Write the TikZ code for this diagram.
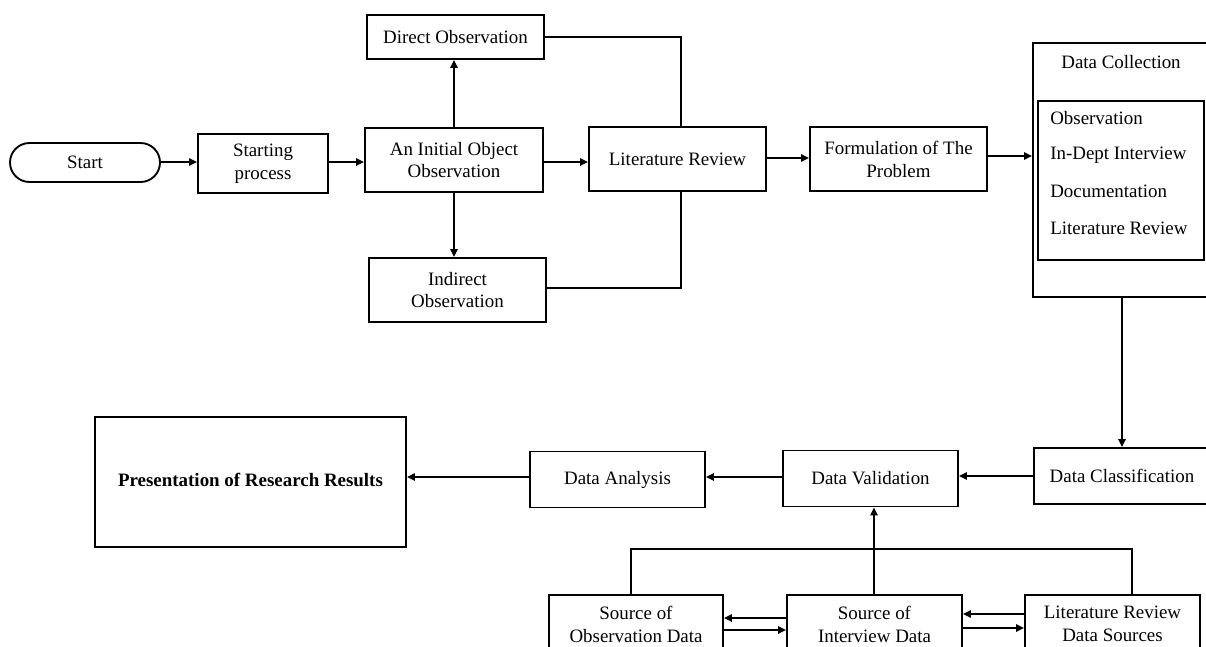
\documentclass[tikz,border=0pt]{standalone}
\usepackage{fontspec}
\setmainfont{Liberation Serif}
\usetikzlibrary{arrows.meta}
\tikzset{
  box/.style 2 args={draw, line width=1.4pt, minimum width=#1*0.75pt, minimum height=#2*0.75pt, inner sep=0pt, align=center, font=\fontsize{14.2}{17.2}\selectfont},
  plain/.style={inner sep=0pt, font=\fontsize{14.2}{17.2}\selectfont},
  conn/.style={line width=1.4pt},
  arr/.style={conn, -{Triangle[length=6pt,width=5.5pt]}},
  lowtext/.style={label={[align=center, inner sep=0pt, font=\fontsize{14.2}{17.2}\selectfont, yshift=2.5pt]center:#1}},
}
\begin{document}
\begin{tikzpicture}[x=0.75pt,y=-0.75pt]
\useasboundingbox (0,0) rectangle (1206,646);
\clip (0,0) rectangle (1206,646);
% top row
\node[box={150}{39}, rounded corners=14.6pt] (start) at (85,162.5) {Start};
\node[box={130}{59}] (sp) at (263,163.5) {Starting\\process};
\node[box={178}{64}] (init) at (454,160) {An Initial Object\\Observation};
\node[box={177}{44}] (direct) at (455.5,37) {Direct Observation};
\node[box={177}{64}] (indirect) at (457.5,290) {Indirect\\Observation};
\node[box={177}{64}] (lr) at (677.5,159) {Literature Review};
\node[box={177}{64}] (form) at (898.5,159) {Formulation of The\\Problem};
\node[box={180}{254}] (dc) at (1123,170) {};
\node[plain] (dctitle) at (1121,62) {Data Collection};
\node[draw, line width=0.8pt, minimum width=166*0.75pt, minimum height=159*0.75pt, inner sep=0pt] (inner) at (1121,180.5) {};
\node[plain, anchor=west] (i1) at (1050,118) {Observation};
\node[plain, anchor=west] (i2) at (1050,155) {In-Dept Interview};
\node[plain, anchor=west] (i3) at (1050,191) {Documentation};
\node[plain, anchor=west] (i4) at (1050,228) {Literature Review};
% middle row
\node[box={176}{56}] (dclass) at (1122,476) {Data Classification};
\node[box={175}{56}] (dval) at (870.5,478.5) {Data Validation};
\node[box={175}{56}] (dana) at (617.5,479.5) {Data Analysis};
\node[box={311}{130}] (pres) at (250.5,482) {\raisebox{3.75pt}{\bfseries Presentation of Research Results}};
% bottom row
\node[box={174}{65}, lowtext={Source of\\Observation Data}] (sobs) at (636,627.5) {};
\node[box={175}{65}, lowtext={Source of\\Interview Data}] (sint) at (874.5,627.5) {};
\node[box={175}{65}, lowtext={Literature Review\\Data Sources}] (slit) at (1112.5,627.5) {};
% connectors
\draw[arr] (start.east |- 0,162) -- (sp.west |- 0,162);
\draw[arr] (sp.east |- 0,162) -- (init.west |- 0,162);
\draw[arr] (init.north) -- (init.north |- direct.south);
\draw[arr] (init.south) -- (init.south |- indirect.north);
\draw[arr] (init.east |- 0,162) -- (lr.west |- 0,162);
\draw[conn] (direct.east) -| (lr.north -| 681,0);
\draw[conn] (indirect.east |- 0,288) -| (lr.south -| 681,0);
\draw[arr] (lr.east |- 0,158) -- (form.west |- 0,158);
\draw[arr] (form.east |- 0,156) -- (dc.west |- 0,156);
\draw[arr] (dc.south -| dclass.north) -- (dclass.north);
\draw[arr] (dclass.west) -- (dclass.west -| dval.east);
\draw[arr] (dval.west |- 0,477) -- (dana.east |- 0,477);
\draw[arr] (dana.west |- 0,477) -- (pres.east |- 0,477);
\draw[arr] (sint.north -| 874,0) -- (dval.south -| 874,0);
\draw[conn] (sobs.north -| 631,0) -- ++(0,-45) -| (slit.north -| 1132,0);
\draw[arr] (sint.west |- 0,618) -- (sobs.east |- 0,618);
\draw[arr] (sobs.east |- 0,630) -- (sint.west |- 0,630);
\draw[arr] (slit.west |- 0,614) -- (sint.east |- 0,614);
\draw[arr] (sint.east |- 0,628) -- (slit.west |- 0,628);
\end{tikzpicture}
\end{document}
